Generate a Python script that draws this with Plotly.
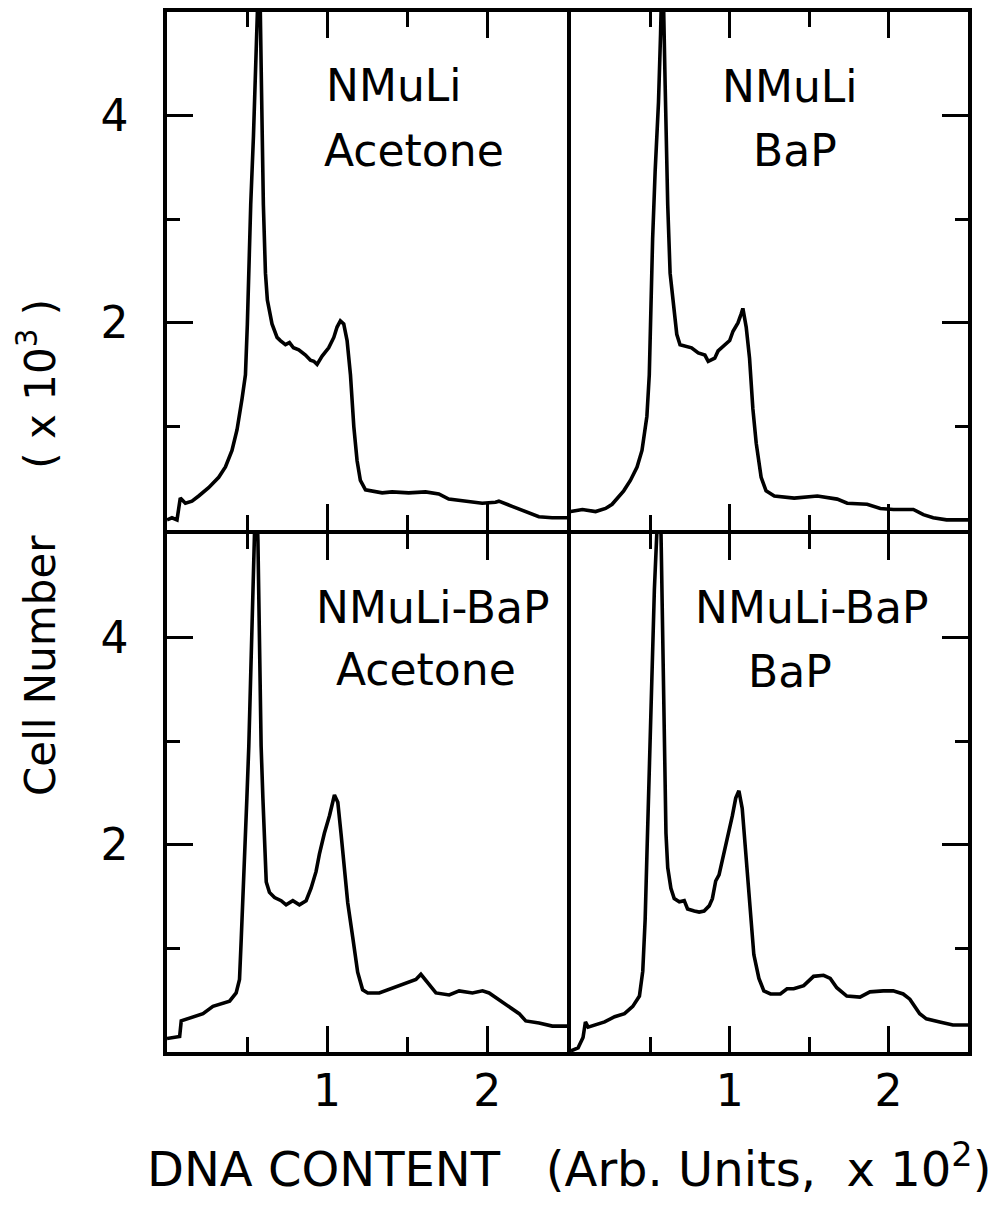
import plotly.graph_objects as go

# ---------------- data (DNA content in units of 10^2, cell number in 10^3) ----------------
x_tl = [0, 0.031, 0.0625, 0.083, 0.115, 0.156, 0.198, 0.26, 0.323, 0.365, 0.406, 0.4375, 0.469, 0.49,
        0.502, 0.51, 0.523, 0.54, 0.556, 0.569, 0.577, 0.59, 0.602, 0.615, 0.627, 0.656, 0.6875, 0.708,
        0.74, 0.765, 0.79, 0.823, 0.865, 0.896, 0.917, 0.9375, 0.969, 1.01, 1.042, 1.0625, 1.083, 1.104,
        1.125, 1.146, 1.167, 1.1875, 1.208, 1.24, 1.28, 1.344, 1.406, 1.51, 1.615, 1.698, 1.76, 1.865,
        1.969, 2.052, 2.073, 2.156, 2.24, 2.323, 2.406, 2.5]
y_tl = [0.10, 0.12, 0.10, 0.31, 0.26, 0.28, 0.33, 0.41, 0.51, 0.61, 0.77, 0.97, 1.27, 1.50,
        1.99, 2.48, 3.14, 3.80, 4.46, 4.98, 5.6, 4.29, 3.14, 2.48, 2.22, 1.99, 1.86, 1.83,
        1.79, 1.81, 1.76, 1.74, 1.69, 1.64, 1.63, 1.60, 1.68, 1.76, 1.86, 1.96, 2.02, 1.99,
        1.83, 1.50, 1.00, 0.67, 0.48, 0.39, 0.38, 0.36, 0.37, 0.36, 0.37, 0.35, 0.30, 0.28,
        0.26, 0.27, 0.28, 0.23, 0.18, 0.13, 0.12, 0.12]

x_tr = [0, 0.073, 0.156, 0.219, 0.26, 0.292, 0.333, 0.375, 0.417, 0.448, 0.479, 0.494, 0.504, 0.515,
        0.531, 0.552, 0.565, 0.577, 0.594, 0.61, 0.625, 0.646, 0.667, 0.6875, 0.719, 0.76, 0.802, 0.844,
        0.865, 0.906, 0.927, 0.969, 1.0, 1.021, 1.052, 1.073, 1.083, 1.104, 1.125, 1.146, 1.167, 1.198,
        1.229, 1.281, 1.406, 1.552, 1.677, 1.74, 1.865, 1.948, 2.031, 2.156, 2.219, 2.281, 2.365, 2.5]
y_tr = [0.18, 0.20, 0.18, 0.21, 0.25, 0.31, 0.38, 0.48, 0.61, 0.77, 1.10, 1.50, 2.15, 2.81,
        3.47, 4.13, 4.79, 5.6, 4.29, 3.14, 2.48, 2.15, 1.89, 1.79, 1.78, 1.76, 1.71, 1.69,
        1.63, 1.66, 1.73, 1.79, 1.83, 1.92, 2.00, 2.09, 2.14, 1.96, 1.66, 1.17, 0.84, 0.51,
        0.38, 0.33, 0.31, 0.33, 0.30, 0.26, 0.25, 0.21, 0.20, 0.20, 0.15, 0.12, 0.10, 0.10]

x_bl = [0, 0.079, 0.089, 0.162, 0.225, 0.287, 0.349, 0.391, 0.432, 0.453, 0.464, 0.484, 0.499, 0.511,
        0.526, 0.536, 0.547, 0.557, 0.568, 0.578, 0.588, 0.599, 0.609, 0.62, 0.64, 0.672, 0.713, 0.744,
        0.786, 0.827, 0.869, 0.9, 0.931, 0.952, 0.983, 1.015, 1.046, 1.067, 1.087, 1.108, 1.129, 1.16,
        1.191, 1.222, 1.254, 1.326, 1.41, 1.493, 1.555, 1.586, 1.617, 1.68, 1.763, 1.825, 1.908, 1.971,
        2.012, 2.075, 2.137, 2.2, 2.241, 2.324, 2.407, 2.5]
y_bl = [0.13, 0.15, 0.30, 0.34, 0.37, 0.44, 0.47, 0.49, 0.57, 0.70, 1.10, 1.78, 2.45, 2.95,
        3.79, 4.62, 4.99, 5.6, 4.93, 3.79, 2.95, 2.45, 1.94, 1.64, 1.54, 1.49, 1.46, 1.42,
        1.46, 1.42, 1.46, 1.58, 1.74, 1.91, 2.11, 2.28, 2.48, 2.41, 2.11, 1.78, 1.44, 1.11,
        0.77, 0.60, 0.57, 0.57, 0.62, 0.67, 0.70, 0.75, 0.69, 0.57, 0.55, 0.59, 0.57, 0.59,
        0.57, 0.50, 0.44, 0.37, 0.30, 0.28, 0.25, 0.25]

x_br = [0, 0.046, 0.077, 0.092, 0.109, 0.15, 0.213, 0.276, 0.338, 0.39, 0.432, 0.453, 0.468, 0.48,
        0.495, 0.509, 0.526, 0.541, 0.553, 0.568, 0.578, 0.589, 0.599, 0.61, 0.63, 0.651, 0.683, 0.714,
        0.735, 0.777, 0.808, 0.839, 0.871, 0.891, 0.912, 0.933, 0.954, 0.975, 0.996, 1.017, 1.038, 1.058,
        1.079, 1.1, 1.121, 1.152, 1.184, 1.215, 1.257, 1.319, 1.361, 1.403, 1.466, 1.528, 1.591, 1.633,
        1.674, 1.737, 1.82, 1.883, 1.967, 2.029, 2.092, 2.134, 2.196, 2.238, 2.322, 2.405, 2.5]
y_br = [0.01, 0.04, 0.14, 0.29, 0.24, 0.26, 0.29, 0.34, 0.37, 0.44, 0.54, 0.78, 1.28, 1.95,
        2.78, 3.79, 4.46, 4.99, 5.6, 4.99, 4.12, 2.78, 2.11, 1.78, 1.58, 1.48, 1.45, 1.46,
        1.38, 1.36, 1.35, 1.36, 1.41, 1.48, 1.65, 1.71, 1.85, 1.98, 2.11, 2.28, 2.45, 2.52,
        2.35, 1.95, 1.45, 0.94, 0.71, 0.59, 0.56, 0.56, 0.61, 0.61, 0.64, 0.73, 0.74, 0.71,
        0.62, 0.54, 0.53, 0.58, 0.59, 0.59, 0.56, 0.51, 0.37, 0.32, 0.29, 0.26, 0.26]

panel_labels = [("NMuLi", "Acetone"), ("NMuLi", "BaP"), ("NMuLi-BaP", "Acetone"), ("NMuLi-BaP", "BaP")]
x_tick_vals = [1, 2]
x_tick_text = ["1", "2"]
x_minor_vals = [0.5, 1.5]
y_tick_vals = [2, 4]
y_tick_text = ["2", "4"]
y_minor_vals = [1, 3]
x_title = "DNA CONTENT\u00a0\u00a0\u00a0(Arb.\u00a0Units,\u00a0\u00a0x\u00a010<sup>2</sup>)"
y_title = "Cell Number\u00a0\u00a0\u00a0\u00a0\u00a0(\u00a0x\u00a010<sup>3</sup>\u00a0)"

# ---------------- figure ----------------
OFF = 8                      # default page margin of the html body
W, H = 1008 - OFF, 1209 - OFF
FONT = "DejaVu Sans"

def px(xp):
    return (xp - OFF) / W

def py(yp):
    return 1 - (yp - OFF) / H

series = [(x_tl, y_tl), (x_tr, y_tr), (x_bl, y_bl), (x_br, y_br)]
fig = go.Figure()
for i, (xs, ys) in enumerate(series):
    sfx = "" if i == 0 else str(i + 1)
    fig.add_trace(go.Scatter(x=xs, y=ys, mode="lines", xaxis="x" + sfx, yaxis="y" + sfx,
                             line=dict(color="black", width=3.6), showlegend=False, hoverinfo="skip"))

LW = 3.6
xdom_left = [px(167), px(569 - LW / 2)]
xdom_right = [px(569 + LW / 2), px(968)]
ydom_top = [py(532 - LW / 2), py(12)]
ydom_bot = [py(1052), py(532 + LW / 2)]

def xaxis(dom, anchor, labels):
    return dict(domain=dom, anchor=anchor, range=[0, 2.5], showgrid=False, zeroline=False,
                showline=True, linecolor="black", linewidth=LW, mirror="ticks",
                ticks="inside", ticklen=26, tickwidth=3, tickcolor="black",
                tickvals=x_tick_vals, ticktext=x_tick_text, showticklabels=labels,
                ticklabelstandoff=-3,
                tickfont=dict(family=FONT, size=44, color="black"),
                minor=dict(tickvals=x_minor_vals, ticks="inside", ticklen=15, tickwidth=3, tickcolor="black"))

def yaxis(dom, anchor, side, labels, mirror):
    return dict(domain=dom, anchor=anchor, side=side, range=[0, 5], showgrid=False, zeroline=False,
                showline=True, linecolor="black", linewidth=LW, mirror=mirror,
                ticks="inside", ticklen=26, tickwidth=3, tickcolor="black",
                tickvals=y_tick_vals, ticktext=y_tick_text, showticklabels=labels,
                ticklabelstandoff=26,
                tickfont=dict(family=FONT, size=44, color="black"),
                minor=dict(tickvals=y_minor_vals, ticks="inside", ticklen=13, tickwidth=3, tickcolor="black"))

fig.update_layout(
    width=W, height=H, autosize=False,
    margin=dict(l=0, r=0, t=0, b=0),
    paper_bgcolor="white", plot_bgcolor="white",
    xaxis=xaxis(xdom_left, "y", False), yaxis=yaxis(ydom_top, "x", "left", True, True),
    xaxis2=xaxis(xdom_right, "y2", False), yaxis2=yaxis(ydom_top, "x2", "right", False, False),
    xaxis3=xaxis(xdom_left, "y3", True), yaxis3=yaxis(ydom_bot, "x3", "left", True, True),
    xaxis4=xaxis(xdom_right, "y4", True), yaxis4=yaxis(ydom_bot, "x4", "right", False, False),
)

# panel labels (line 1 / line 2) positioned in each panel's data coordinates
label_pos = [((1.42, 4.29), (1.54, 3.66)), ((1.38, 4.28), (1.41, 3.66)),
             ((1.66, 4.29), (1.62, 3.69)), ((1.52, 4.29), (1.38, 3.67))]
for i, ((l1, l2), ((ax1, ay1), (ax2, ay2))) in enumerate(zip(panel_labels, label_pos)):
    sfx = "" if i == 0 else str(i + 1)
    for txt, ax, ay in ((l1, ax1, ay1), (l2, ax2, ay2)):
        fig.add_annotation(text=txt, x=ax, y=ay, xref="x" + sfx, yref="y" + sfx,
                           showarrow=False, xanchor="center", yanchor="middle",
                           font=dict(family=FONT, size=44, color="black"))

fig.add_annotation(text=x_title, x=px(569), y=py(1166), xref="paper", yref="paper",
                   showarrow=False, xanchor="center", yanchor="middle",
                   font=dict(family=FONT, size=48, color="black"))
fig.add_annotation(text=y_title, x=px(37), y=py(548), xref="paper", yref="paper",
                   showarrow=False, xanchor="center", yanchor="middle", textangle=-90,
                   font=dict(family=FONT, size=42, color="black"))

fig.write_html("out.html")
